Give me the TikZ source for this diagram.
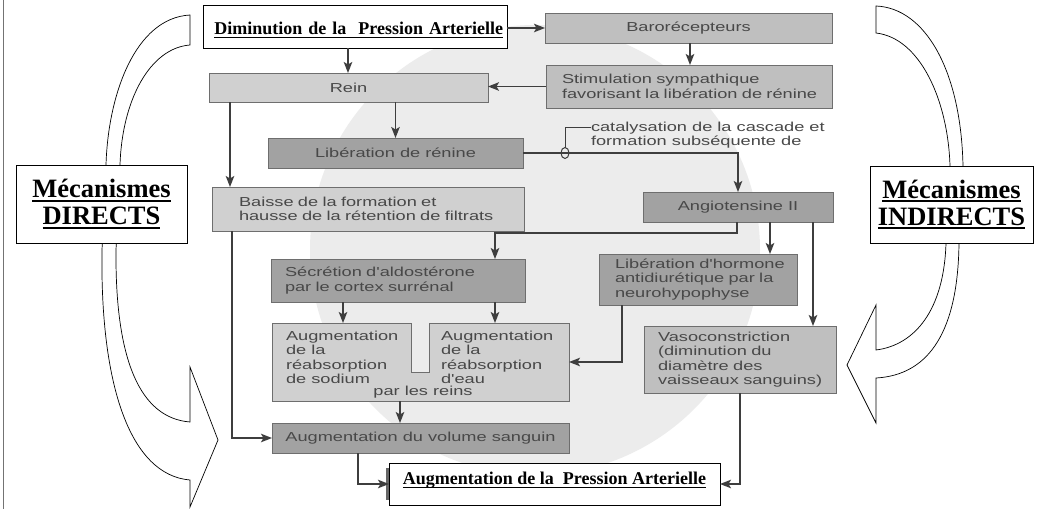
\documentclass[tikz,border=0pt]{standalone}
\usepackage{fontspec}
\setmainfont{Liberation Serif}
\newfontfamily\scanfont{Liberation Sans}[FakeStretch=1.4]
\usetikzlibrary{arrows.meta}
\definecolor{txtc}{HTML}{484848}
\definecolor{arrc}{HTML}{3E3E3E}
\definecolor{bordc}{HTML}{6E6E6E}
\definecolor{lightf}{HTML}{D0D0D0}
\definecolor{midf}{HTML}{BFBFBF}
\definecolor{darkf}{HTML}{A2A2A2}
\definecolor{bgc}{HTML}{ECECEC}
\newcommand{\myul}[3]{\setbox0\hbox{#3}\rlap{\rule[-#1]{\wd0}{#2}}\box0}
\begin{document}
\begin{tikzpicture}[x=1pt,y=-1pt,
  fbox/.style={draw=bordc, line width=0.9pt, inner sep=0pt, outer sep=0pt,
    font=\scanfont\fontsize{13}{14.3}\selectfont, text=txtc},
  lightbox/.style={fbox, fill=lightf},
  midbox/.style={fbox, fill=midf},
  darkbox/.style={fbox, fill=darkf},
  txt/.style={inner sep=0pt, outer sep=0pt, font=\scanfont\fontsize{13}{14.3}\selectfont, text=txtc, align=left},
  arr/.style={draw=arrc, line width=1.5pt, -{Stealth[length=11pt,width=8.5pt,inset=2.5pt]}},
  titlebox/.style={draw=black, line width=0.8pt, fill=white, inner sep=0pt, outer sep=0pt,
    font=\bfseries\fontsize{18}{20}\selectfont},
  mechbox/.style={draw=black, line width=0.8pt, fill=white, inner sep=0pt, outer sep=0pt,
    align=center, font=\bfseries\fontsize{26.5}{27}\selectfont},
  hollow/.style={draw=black, line width=0.7pt, fill=white, line join=miter}
]
\useasboundingbox (0,0) rectangle (1039,509);
\fill[white] (0,0) rectangle (1039,509);
% faint background disc of the scanned figure
\begin{scope}
\clip (200,0) rectangle (850,509);
\fill[bgc] (535,250) circle [radius=225pt];
\end{scope}
% page edge
\draw[black!55, line width=0.8pt] (3,0) -- (3,509);

% boxes
\node[titlebox, minimum width=304pt, minimum height=43pt, text width=296pt, align=right,
  text height=16pt, text depth=1pt] (dim) at (355,26.5)
  {\myul{4pt}{1.4pt}{Diminution de la\ \ Pression Arterielle}};
\node[midbox, minimum width=287pt, minimum height=30pt] (baro) at (688.5,28) {Barorécepteurs};
\node[midbox, minimum height=43pt, text width=254pt, inner xsep=16pt, align=left] (stim) at (689,86.5)
  {\mbox{Stimulation sympathique}\\\mbox{favorisant la libération de rénine}};
\node[lightbox, minimum width=279pt, minimum height=29pt] (rein) at (348.5,87.5) {Rein};
\node[darkbox, minimum width=255pt, minimum height=30pt] (librenine) at (395.5,153) {Libération de rénine};
\node[lightbox, minimum height=44pt, text width=258pt, inner xsep=27pt, align=left] (baisse) at (368,209)
  {\mbox{Baisse de la formation et}\\\mbox{hausse de la rétention de filtrats}};
\node[darkbox, minimum width=190pt, minimum height=30pt] (angio) at (738,207) {Angiotensine II};
\node[darkbox, minimum height=43pt, text width=226pt, inner xsep=14pt, align=left] (secretion) at (398,280.5)
  {\mbox{Sécrétion d'aldostérone}\\\mbox{par le cortex surrénal}};
\node[darkbox, minimum height=51pt, text width=166pt, inner xsep=16pt, align=left] (libhorm) at (698,279.5)
  {\mbox{Libération d'hormone}\\\mbox{antidiurétique par la}\\\mbox{neurohypophyse}};
\node[midbox, minimum height=67pt, text width=164pt, inner xsep=14pt, align=left] (vaso) at (740,359.5)
  {\mbox{Vasoconstriction}\\\mbox{(diminution du}\\\mbox{diamètre des}\\\mbox{vaisseaux sanguins)}};
% notched box
\filldraw[draw=bordc, line width=0.9pt, fill=lightf] (272,323) -- (411,323) -- (411,372) -- (429,372)
  -- (429,323) -- (569,323) -- (569,401) -- (272,401) -- cycle;
\node[inner sep=0pt, outer sep=0pt, minimum width=297pt, minimum height=78pt] (notch) at (420.5,362) {};
\node[txt, anchor=north west] (sodium) at (286,331) {Augmentation\\de la\\réabsorption\\de sodium};
\node[txt, anchor=north west] (eau) at (441,331) {Augmentation\\de la\\réabsorption\\d'eau};
\node[txt, anchor=base] (reins) at (423,395) {par les reins};
\node[darkbox, minimum width=297pt, minimum height=30pt] (volume) at (420.5,438) {Augmentation du volume sanguin};
\fill[black!60] (385.5,468) rectangle (389,500);
\node[titlebox, minimum width=331pt, minimum height=42pt, text height=10pt, text depth=10pt] (final) at (554.5,484)
  {\myul{4pt}{1.3pt}{Augmentation de la\ \ Pression Arterielle}};

% catalysation annotation
\node[txt, anchor=north west] (catt) at (591,122) {catalysation de la cascade et\\formation subséquente de};

% connectors
\draw[arr] (dim.east |- baro.west) -- (baro.west);
\draw[arr] (dim.south -| 348,0) -- (rein.north -| 348,0);
\draw[arr] (baro.south -| 690,0) -- (stim.north -| 690,0);
\draw[arr] (stim.west) -- (stim.west -| rein.east);
\draw[arr] (librenine.north |- rein.south) -- (librenine.north);
\draw[arr] (rein.south -| 230,0) -- (baisse.north -| 230,0);
\draw[arr] (librenine.east) -- (librenine.east -| angio.north) -- (angio.north);
\coordinate (cat) at (565,153);
\draw[arrc, line width=1pt] (cat) ellipse [x radius=4pt, y radius=5.5pt];
\draw[arrc, line width=1pt] (565,147.5) -- (565,127) -- (catt.north west |- 0,127);
\draw[arr] (angio.south -| 737,0) -- ++(0,11) -| (secretion.north -| 495,0);
\draw[arr] (angio.south -| 770,0) -- (libhorm.north -| 770,0);
\draw[arr] (angio.south -| 813,0) -- (vaso.north -| 813,0);
\draw[arr] (secretion.south -| 343,0) -- (notch.north -| 343,0);
\draw[arr] (secretion.south -| 495,0) -- (notch.north -| 495,0);
\draw[arr] (libhorm.south -| 622,0) |- (notch.east |- 0,362);
\draw[arr] (notch.south -| 400,0) -- (volume.north -| 400,0);
\draw[arr] (baisse.south -| 232,0) |- (volume.west);
\draw[arr] (volume.south -| 358,0) |- (final.west);
\draw[arr] (vaso.south -| 740,0) |- (final.east);

% hollow curved arrows
\filldraw[hollow] (190,15) .. controls (135,18) and (108,95) .. (106,165) -- (102,250)
  .. controls (100,385) and (130,475) .. (190,480) -- (190,507) -- (218,440) -- (190,367) -- (190,422)
  .. controls (140,418) and (115,360) .. (116,250) -- (120,165)
  .. controls (122,100) and (150,48) .. (190,45) -- cycle;
\filldraw[hollow] (876,6) .. controls (925,8) and (961,70) .. (963,166) -- (959,243)
  .. controls (958,330) and (930,375) .. (876,378) -- (876,423) -- (847,365) -- (876,305) -- (876,350)
  .. controls (915,345) and (944,310) .. (946,243) -- (950,166)
  .. controls (948,100) and (920,38) .. (876,33) -- cycle;

\node[mechbox, minimum width=171pt, minimum height=78pt] (direct) at (101.5,204)
  {\myul{4pt}{2pt}{Mécanismes}\\\myul{4pt}{2pt}{DIRECTS}};
\node[mechbox, minimum width=163pt, minimum height=77pt] (indirect) at (951.5,204.5)
  {\myul{4pt}{2pt}{Mécanismes}\\\myul{4pt}{2pt}{INDIRECTS}};
\end{tikzpicture}
\end{document}
